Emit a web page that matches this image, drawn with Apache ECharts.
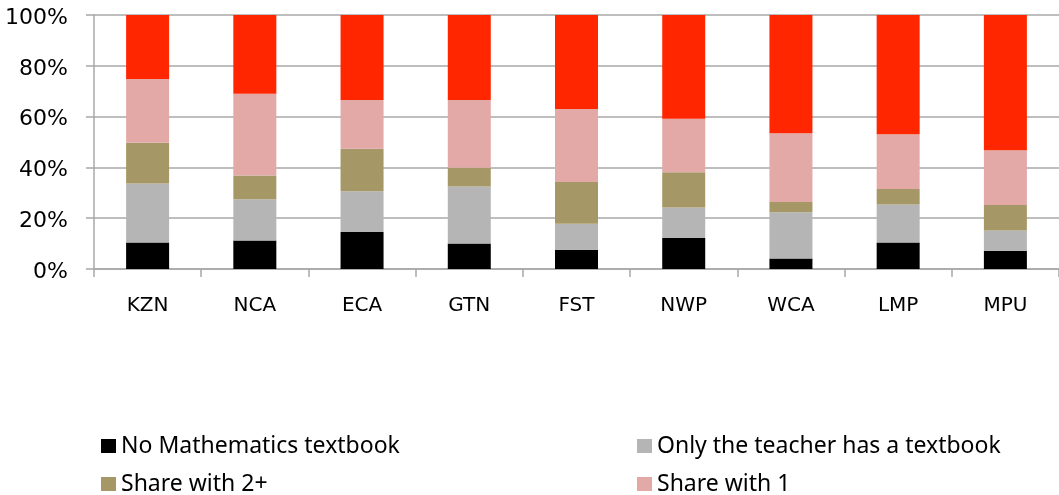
<!DOCTYPE html>
<html>
<head>
<meta charset="utf-8">
<title>Textbook access by province</title>
<script src="https://cdn.jsdelivr.net/npm/echarts@6/dist/echarts.min.js"></script>
<style>
  html, body { margin: 0; padding: 0; background: #fff; }
  #chart { width: 1059px; height: 495px; }
</style>
</head>
<body>
<div id="chart"></div>
<script>
const provinces = ['KZN', 'NCA', 'ECA', 'GTN', 'FST', 'NWP', 'WCA', 'LMP', 'MPU']

// percentages, bottom of the stack first
const noTextbook = [10.4, 11.2, 14.6, 10.0, 7.6, 12.3, 4.1, 10.4, 7.2]
const teacherOnly = [23.3, 16.3, 16.0, 22.5, 10.2, 11.9, 18.2, 15.0, 8.0]
const shareTwoPlus = [16.0, 9.3, 16.7, 7.4, 16.5, 13.9, 4.1, 6.1, 10.0]
const shareOne = [25.1, 32.2, 19.2, 26.6, 28.7, 21.1, 27.0, 21.6, 21.6]
const ownTextbook = [25.2, 31.0, 33.5, 33.5, 37.0, 40.8, 46.6, 46.9, 53.2]

const seriesNames = [
  'No Mathematics textbook',
  'Only the teacher has a textbook',
  'Share with 2+',
  'Share with 1',
  'Own textbook'
]
const colors = ['#000000', '#B5B5B5', '#A69866', '#E2A9A7', '#FF2600']

const tickFont = 'DejaVu Sans, Verdana, sans-serif'
const legendFont = '"Noto Sans", "Open Sans", sans-serif'

const chart = echarts.init(document.getElementById('chart'), null, { renderer: 'canvas' })

const series = [noTextbook, teacherOnly, shareTwoPlus, shareOne, ownTextbook].map((data, i) => {
  return {
    name: seriesNames[i],
    type: 'bar',
    stack: 'total',
    barWidth: 43,
    data: data,
    itemStyle: { color: colors[i] },
    animation: false
  }
})

// one legend per entry so the 2x2 block sits like the original
const legendSpots = [
  { name: seriesNames[0], left: 101, top: 433 },
  { name: seriesNames[1], left: 637, top: 433 },
  { name: seriesNames[2], left: 101, top: 471 },
  { name: seriesNames[3], left: 637, top: 471 }
]
const legends = legendSpots.map(s => {
  return {
    left: s.left,
    top: s.top,
    padding: 0,
    itemWidth: 15,
    itemHeight: 14,
    icon: 'rect',
    data: [s.name],
    textStyle: {
      fontFamily: legendFont,
      fontSize: 23,
      lineHeight: 26,
      color: '#000'
    }
  }
})

chart.setOption({
  color: colors,
  grid: {
    left: 94,
    top: 15,
    width: 971,
    height: 254
  },
  legend: legends,
  xAxis: {
    type: 'category',
    data: provinces,
    axisLine: { lineStyle: { color: '#A8A8A8', width: 1.5 } },
    axisTick: { show: true, length: 8, inside: false, lineStyle: { color: '#A8A8A8', width: 1.5 } },
    axisLabel: {
      margin: 27,
      fontFamily: tickFont,
      fontSize: 20,
      color: '#000'
    },
    splitLine: { show: false }
  },
  yAxis: {
    type: 'value',
    min: 0,
    max: 100,
    interval: 20,
    axisLine: { show: true, lineStyle: { color: '#A8A8A8', width: 1.5 } },
    axisTick: { show: true, length: 8, lineStyle: { color: '#A8A8A8', width: 1.5 } },
    axisLabel: {
      formatter: '{value}%',
      margin: 26,
      fontFamily: tickFont,
      fontSize: 22,
      color: '#000',
      // labels sit a few px below their gridline in the original
      verticalAlign: 'top',
      lineHeight: 6
    },
    splitLine: { show: true, lineStyle: { color: '#A8A8A8', width: 1.5 } }
  },
  series: series
})
</script>
</body>
</html>
